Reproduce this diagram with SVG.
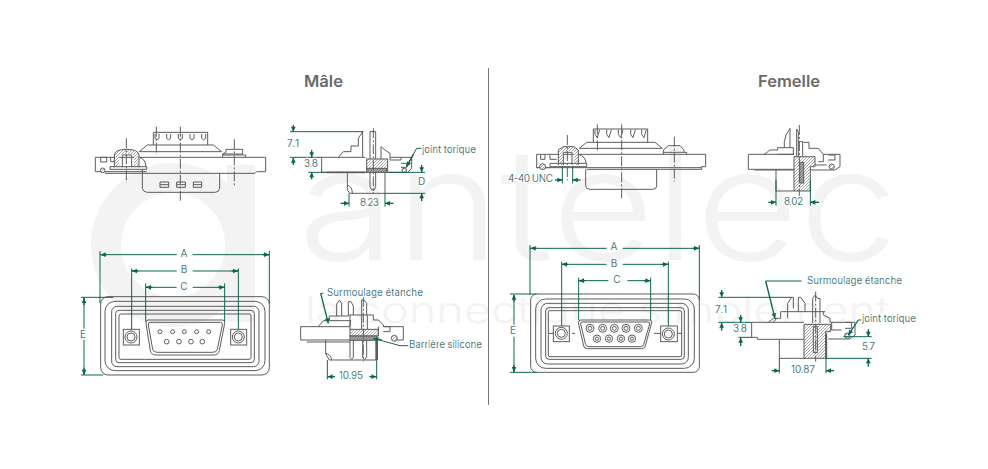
<svg xmlns="http://www.w3.org/2000/svg" width="988" height="469" viewBox="0 0 988 469">
<style>
.l{fill:none;stroke:#5c5c5c;stroke-width:3}
.t{fill:none;stroke:#5c5c5c;stroke-width:5}
.c{fill:none;stroke:#5c5c5c;stroke-width:3;stroke-dasharray:30 6 6 6}
.h{fill:url(#hatch);stroke:#5c5c5c;stroke-width:3}
.k{fill:url(#dark);stroke:#5c5c5c;stroke-width:3}
.d{fill:none;stroke:#0b6650;stroke-width:3}
.a{fill:none;stroke:#0b6650;stroke-width:4;marker-end:url(#arr)}
.x{font-family:"Inter","Liberation Sans",sans-serif;font-size:10px;fill:#4f787c;paint-order:stroke;stroke:#fff;stroke-width:2.5px;stroke-linejoin:round}
.m{font-family:"Inter","Liberation Sans",sans-serif;fill:#f3f3f3}
.ti{font-family:"Inter","Liberation Sans",sans-serif;font-size:16px;font-weight:600;fill:#6a6a6a}
</style>
<defs>
<pattern id="hatch" width="9" height="9" patternUnits="userSpaceOnUse"><rect width="9" height="9" fill="#fff"/><path d="M0 9L9 0M-3 3L3 -3M6 12L12 6" stroke="#777" stroke-width="2"/></pattern>
<pattern id="dark" width="8" height="8" patternUnits="userSpaceOnUse"><rect width="8" height="8" fill="#bbb"/><path d="M0 8L8 0M-2 2L2 -2M6 10L10 6" stroke="#444" stroke-width="2.4"/></pattern>
<marker id="arr" markerUnits="userSpaceOnUse" markerWidth="20" markerHeight="18" refX="18" refY="9" orient="auto"><path d="M3 2L18 9L3 16Z" fill="#0b6650"/></marker>
</defs>
<rect width="988" height="469" fill="#fff"/>
<g id="watermark">
<circle cx="173" cy="245" r="67" fill="none" stroke="#f3f3f3" stroke-width="30"/>
<rect x="227" y="165" width="28" height="157" fill="#f3f3f3"/>
<text class="m" x="298" y="260" font-size="156" font-weight="300" textLength="600" lengthAdjust="spacingAndGlyphs">antelec</text>
<text class="m" x="305" y="323" font-size="37" font-weight="300" textLength="585" lengthAdjust="spacingAndGlyphs">la connectique simplement</text>
</g>
<path id="separator" d="M488.500 68V405" fill="none" stroke="#777" stroke-width="1"/>
<text class="ti" x="304" y="87" textLength="39" lengthAdjust="spacingAndGlyphs">Mâle</text>
<text class="ti" x="758" y="87" textLength="62" lengthAdjust="spacingAndGlyphs">Femelle</text>

<g id="male-top" transform="translate(70,110) scale(.33333)">
<path class="l" d="M76 142H587V185H560L555 190H105M76 142V185H100M100 185H230M122 142V155H135V135M92 142H110V156H92Z"/>
<path class="l" d="M250 105V67H413V105M255 72V85Q261 94 267 85V72M290 72V85Q296 94 302 85V72M325 72V85Q331 94 337 85V72M360 72V85Q366 94 372 85V72M395 72V85Q401 94 407 85V72"/>
<path class="l" d="M208 125L232 105H430L455 125M208 125H455M207 142Q226 146 228 170M458 142V132L468 127V118H518V132H458M458 135H527V142"/>
<path d="M141 172V138Q141 125 170 125Q199 125 199 138V172" fill="none" stroke="url(#hatch)" stroke-width="14"/>
<path class="l" d="M133 172V135Q135 118 170 118Q205 118 207 135V172M157 172V135H185V172M120 170H230V178H120Z"/>
<circle class="h" cx="98" cy="181" r="7"/>
<path class="l" d="M217 178V235Q220 247 232 247H435Q447 247 449 235V190"/>
<path class="l" d="M270 216H296V232H270ZM270 224H296M320 216H346V232H320ZM320 224H346M370 216H395V232H370ZM370 224H395"/>
<path class="c" d="M331 50V275M169 85V218M259 50V135M493 88V228"/>
</g>

<g id="male-side" transform="translate(275,115) scale(.33333)">
<path class="l" d="M140 127V172H272M140 127H272M190 127L205 110H228V93H250V70L263 50V127"/>
<path class="l" d="M285 132V50H302V132M318 132V95L330 105L345 115V127H410V160L398 172H340M345 127V135H378V127M378 145H395V157H378"/>
<rect class="h" x="275" y="132" width="63" height="40"/>
<rect class="k" x="275" y="160" width="60" height="12"/>
<path class="l" d="M285 172L285 215L290 225H298L302 215V172M217 172V225L225 235H330V172M217 210Q232 215 232 235"/>
<path class="t" d="M155 172H272"/>
<circle class="h" cx="388" cy="166" r="7"/>
<path class="c" d="M295 40V235"/>
</g>

<g id="male-front" transform="translate(70,240) scale(.33333)">
<rect class="l" x="92" y="170" width="506" height="235" rx="22"/>
<rect class="l" x="105" y="184" width="480" height="208" rx="30"/>
<rect class="l" x="125" y="199" width="442" height="181" rx="16"/>
<rect class="l" x="137" y="211" width="416" height="157" rx="10"/>
<rect class="l" x="147" y="222" width="396" height="136" rx="6"/>
<path class="l" d="M234 240H458Q465 240 464 250L448 332Q445 345 432 345H258Q243 345 241 332L228 250Q227 240 234 240Z"/>
<path class="l" d="M240 247H452Q458 247 457 255L442 328Q440 337 428 337H262Q250 337 248 328L235 255Q234 247 240 247Z"/>
<rect class="l" x="160" y="268" width="48" height="47"/><circle class="l" cx="183" cy="291" r="18"/><circle class="l" cx="183" cy="291" r="12"/>
<rect class="l" x="482" y="268" width="48" height="47"/><circle class="l" cx="505" cy="291" r="18"/><circle class="l" cx="505" cy="291" r="12"/>
<g class="l"><circle cx="270" cy="275" r="6"/><circle cx="308" cy="275" r="6"/><circle cx="343" cy="275" r="6"/><circle cx="380" cy="275" r="6"/><circle cx="416" cy="275" r="6"/><circle cx="290" cy="305" r="7"/><circle cx="327" cy="305" r="7"/><circle cx="363" cy="305" r="7"/><circle cx="397" cy="305" r="7"/></g>
</g>

<g id="male-section" transform="translate(290,280) scale(.33333)">
<path class="l" d="M32 140V180H180M32 140H180L182 120M85 140L100 122H118V108H175M140 108V72L147 62H150L155 72V108M175 108V65H183L190 78V105M215 105V60H222L230 70V105M178 105H250V120H265L280 135V140H340V180H310M265 140V168M280 140H300V155H280M50 186H180"/>
<path class="l" d="M118 122H180M180 105V148M215 105V148M232 105V148"/>
<rect class="h" x="180" y="148" width="85" height="20"/>
<rect class="k" x="180" y="168" width="80" height="13"/>
<path class="l" d="M107 180V222L118 240H260M107 220Q122 222 125 240M180 181V232L185 238L190 232V181M218 181V232L224 238L230 232V181"/>
<path class="t" d="M260 182V240" style="stroke-width:8"/>
<circle class="h" cx="313" cy="175" r="9"/>
<path class="c" d="M220 50V245"/>
</g>

<g id="female-top" transform="translate(500,115) scale(.33333)">
<path class="l" d="M110 118H617V155H605V163H260M110 118V158H150M110 158H605M122 118V133H135V118M150 118V133H170M280 82V42H443V82M285 44V58L292 68L299 44M320 44V58L327 68L334 44M355 44V58L362 68L369 44M392 44V58L399 68L406 44M425 44V58L432 68L439 44"/>
<path class="l" d="M238 100L260 82H465L487 100M238 100H487M235 118Q258 125 258 145M490 118V105L505 92H540L552 105V112H560V118M490 112H552"/>
<path d="M182 150V108Q205 92 228 108V150" fill="none" stroke="url(#hatch)" stroke-width="14"/>
<path class="l" d="M175 150V105L190 95H222L235 105V150M190 150V112H216V150M150 145H260V155H150Z"/>
<circle class="h" cx="128" cy="155" r="9"/>
<path class="l" d="M257 163V213Q258 223 270 223H458Q470 223 470 213V163"/>
<path class="c" d="M365 28V250M292 28V112M523 65V200M202 60V195"/>
</g>

<g id="female-side" transform="translate(735,115) scale(.33333)">
<path class="l" d="M40 118V163H177M40 118H177M88 118L105 105H128V98H148V80L153 60L165 40V98M148 98H175V118M128 118H177"/>
<path class="l" d="M185 125V42L190 52V80H203V125M190 80V125M205 82H222V100H250L265 118H315V155L300 165H225M265 118V140H250M280 120H300V135H280M240 150H275"/>
<path class="h" d="M177 125H240V155H226V228H177Z"/>
<rect class="k" x="194" y="142" width="12" height="62"/>
<path class="l" d="M123 165V228H177M58 165H177"/>
<circle class="h" cx="290" cy="155" r="8"/>
<path class="c" d="M193 30V250"/>
</g>

<g id="female-front" transform="translate(500,240) scale(.33333)">
<rect class="l" x="92" y="162" width="506" height="235" rx="18"/>
<rect class="l" x="107" y="177" width="476" height="208" rx="30"/>
<rect class="l" x="123" y="190" width="442" height="182" rx="20"/>
<rect class="l" x="137" y="203" width="416" height="155" rx="10"/>
<rect class="l" x="145" y="212" width="400" height="138" rx="5"/>
<path class="l" d="M243 240H448Q456 240 455 248L436 318Q434 326 425 326H262Q253 326 251 318L235 248Q235 240 243 240Z"/>
<path class="l" d="M248 246H443Q450 246 449 252L431 314Q429 320 422 320H266Q259 320 257 314L242 252Q241 246 248 246Z"/>
<rect class="l" x="160" y="258" width="48" height="47"/><circle class="l" cx="184" cy="280" r="18"/><circle class="l" cx="184" cy="280" r="12"/>
<rect class="l" x="482" y="258" width="50" height="47"/><circle class="l" cx="505" cy="282" r="18"/><circle class="l" cx="505" cy="282" r="12"/>
<path class="l" d="M146 280H160M216 280H225M462 280H482M532 280H546"/>
<g class="l"><circle cx="270" cy="265" r="12"/><circle cx="270" cy="265" r="6"/><circle cx="308" cy="265" r="12"/><circle cx="308" cy="265" r="6"/><circle cx="343" cy="265" r="12"/><circle cx="343" cy="265" r="6"/><circle cx="378" cy="265" r="12"/><circle cx="378" cy="265" r="6"/><circle cx="415" cy="265" r="12"/><circle cx="415" cy="265" r="6"/><circle cx="291" cy="296" r="11"/><circle cx="291" cy="296" r="5"/><circle cx="327" cy="296" r="11"/><circle cx="327" cy="296" r="5"/><circle cx="363" cy="296" r="11"/><circle cx="363" cy="296" r="5"/><circle cx="396" cy="296" r="11"/><circle cx="396" cy="296" r="5"/></g>
</g>

<g id="female-section" transform="translate(710,270) scale(.33333)">
<path class="l" d="M125 157V202H142V208H282M125 157H282M175 157L190 145H212M190 157L200 145M233 145V100L245 82H250V115M265 125V82H272L285 100V125M212 145V125H345M308 160V85L316 75L322 85H330V160"/>
<path class="l" d="M340 125V135L360 145V157H435V195L420 207H355M365 157V180H395M405 157H425V175H405M208 208V265H282"/>
<path class="h" d="M282 163H362V185H347V265H282Z"/>
<rect class="l" x="310" y="170" width="12" height="78" fill="#bbb"/>
<path class="t" d="M349 190V265"/>
<circle class="h" cx="412" cy="197" r="8"/>
<path class="c" d="M317 65V275"/>
</g>

<g id="connectors">
<g transform="translate(275,115) scale(.33333)">
<path class="d" d="M45 50H265M45 127H140M100 172H155M338 172H450M330 235H450M222 235V275M330 235V275M425 100H440M425 100L395 155"/>
<path class="a" d="M55 30V50"/><path class="a" d="M110 105V127"/><path class="a" d="M55 150V128"/><path class="a" d="M110 193V172"/>
<path class="a" d="M440 150V172"/><path class="a" d="M440 258V235"/><path class="a" d="M197 265H222"/><path class="a" d="M355 265H330"/><path class="a" d="M415 118L395 155"/>
</g>
<g transform="translate(70,240) scale(.33333)">
<path class="d" d="M90 33V190M598 33V190M185 85V268M505 85V268M227 130V245M464 130V245M33 172H130M33 405H100M90 44H320M368 44H598M185 93H320M368 93H505M227 142H320M368 142H464M42 172V270M42 300V405"/>
<path class="a" d="M110 44H92"/><path class="a" d="M578 44H597"/><path class="a" d="M205 93H186"/><path class="a" d="M485 93H504"/><path class="a" d="M247 142H228"/><path class="a" d="M443 142H463"/><path class="a" d="M42 195V174"/><path class="a" d="M42 383V404"/>
</g>
<g transform="translate(290,280) scale(.33333)">
<path class="d" d="M100 40H92M112 240V298M260 240V298M355 197H330L250 175"/>
<path class="a" d="M92 40L115 130"/><path class="a" d="M135 290H113"/><path class="a" d="M238 290H259"/><path class="a" d="M275 180L250 175"/>
</g>
<g transform="translate(500,115) scale(.33333)">
<path class="d" d="M187 155V205M218 155V205"/>
<path class="a" d="M165 195H187"/><path class="a" d="M242 195H218"/>
</g>
<g transform="translate(735,115) scale(.33333)">
<path class="d" d="M123 195V272M226 195V272"/>
<path class="a" d="M100 262H123"/><path class="a" d="M252 262H226"/>
</g>
<g transform="translate(500,240) scale(.33333)">
<path class="d" d="M90 15V165M598 15V180M185 65V258M505 65V258M236 113V240M452 113V240M30 162H110M30 397H110M90 25H320M368 25H598M185 73H320M368 73H505M236 122H325M382 122H452M42 165V255M42 290V395"/>
<path class="a" d="M110 25H92"/><path class="a" d="M578 25H597"/><path class="a" d="M205 73H186"/><path class="a" d="M485 73H504"/><path class="a" d="M256 122H237"/><path class="a" d="M432 122H451"/><path class="a" d="M42 185V164"/><path class="a" d="M42 375V396"/>
</g>
<g transform="translate(710,270) scale(.33333)">
<path class="d" d="M275 33H167M25 82H245M25 157H125M85 202H125M400 200H485M348 265H485M208 265V310M348 265V310M455 150H445"/>
<path class="a" d="M167 33L195 145"/><path class="a" d="M35 60V82"/><path class="a" d="M92 135V157"/><path class="a" d="M35 182V158"/><path class="a" d="M92 228V203"/><path class="a" d="M475 178V200"/><path class="a" d="M475 290V265"/><path class="a" d="M185 302H208"/><path class="a" d="M372 302H348"/><path class="a" d="M445 150L415 195"/>
</g>
</g>

<g id="labels">
<text class="x" x="287" y="147" textLength="12">7.1</text>
<text class="x" x="304" y="167" textLength="14">3.8</text>
<text class="x" x="418" y="185">D</text>
<text class="x" x="360" y="206" textLength="19">8.23</text>
<text class="x" x="422" y="153" textLength="54">joint torique</text>
<text class="x" x="184" y="257" text-anchor="middle">A</text>
<text class="x" x="184" y="273" text-anchor="middle">B</text>
<text class="x" x="184" y="290" text-anchor="middle">C</text>
<text class="x" x="83" y="338" text-anchor="middle">E</text>
<text class="x" x="327" y="296" textLength="96">Surmoulage étanche</text>
<text class="x" x="409" y="348" textLength="73">Barrière silicone</text>
<text class="x" x="339" y="379" textLength="24">10.95</text>
<text class="x" x="508" y="182" textLength="45">4-40 UNC</text>
<text class="x" x="784" y="205" textLength="19">8.02</text>
<text class="x" x="614" y="250" text-anchor="middle">A</text>
<text class="x" x="614" y="267" text-anchor="middle">B</text>
<text class="x" x="617" y="283" text-anchor="middle">C</text>
<text class="x" x="513" y="334" text-anchor="middle">E</text>
<text class="x" x="807" y="284" textLength="95">Surmoulage étanche</text>
<text class="x" x="715" y="313" textLength="12">7.1</text>
<text class="x" x="733" y="332" textLength="14">3.8</text>
<text class="x" x="862" y="322" textLength="54">joint torique</text>
<text class="x" x="862" y="350" textLength="13">5.7</text>
<text class="x" x="791" y="373" textLength="24">10.87</text>
</g>
</svg>
